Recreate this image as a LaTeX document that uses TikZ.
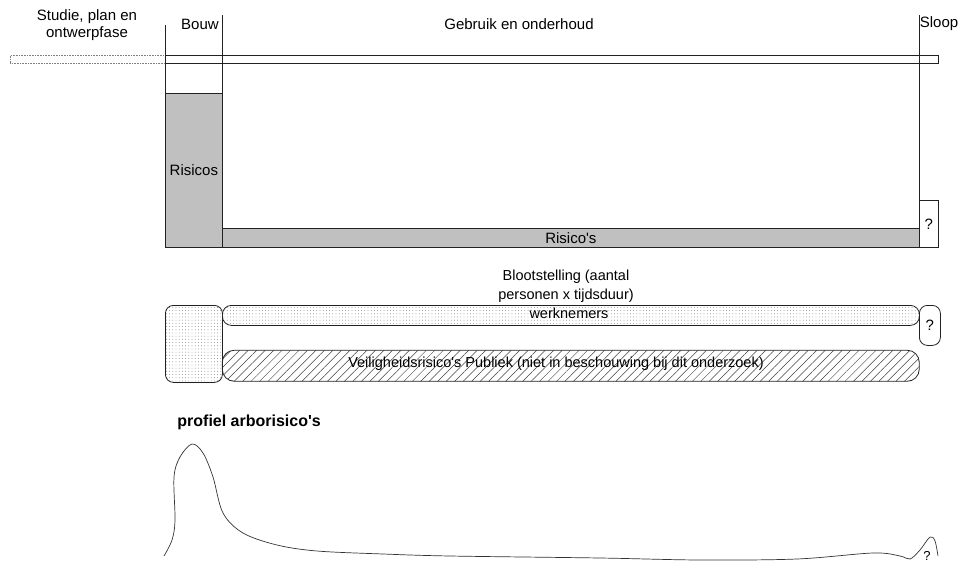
\documentclass[tikz,border=0pt]{standalone}
\usepackage{fontspec}
\setmainfont{Liberation Sans}[Ligatures=TeXOff]
\usetikzlibrary{patterns.meta}
\definecolor{riskgray}{HTML}{C0C0C0}
\definecolor{lineblack}{HTML}{222222}
\begin{document}
\begin{tikzpicture}[x=1pt,y=-1pt,line width=0.8pt,draw=lineblack,
  lbl/.style={font=\fontsize{15}{18}\selectfont,align=center,inner sep=0pt,text=black},
  boxnode/.style={draw=lineblack,inner sep=0pt,anchor=north west,font=\fontsize{15}{17}\selectfont},
  riskfill/.style={fill=riskgray},
  dotfill/.style={pattern={Dots[distance=3.2pt,radius=0.4pt]},pattern color=gray!80!black},
  hatchfill/.style={pattern={Lines[angle=45,distance=6pt,line width=0.5pt]},pattern color=darkgray},
  rnd/.style={rounded corners=#1}]
\useasboundingbox (0,0) rectangle (959,573);

% header labels
\node[lbl,font=\fontsize{15}{17}\selectfont] (studie) at (87,25) {Studie, plan en\\ontwerpfase};
\node[lbl] (bouw) at (200,24) {Bouw};
\node[lbl] (gebruik) at (519,24) {Gebruik en onderhoud};
\node[lbl] (sloop) at (939,24) {Sloop};

% time band
\node[boxnode,draw=gray,densely dotted,line width=0.6pt,minimum width=155pt,minimum height=8pt] (preband) at (10,55) {};
\node[boxnode,minimum width=773pt,minimum height=8pt] (band) at (165,55) {};

% frame and phase lines
\coordinate (ftop) at (165,25);
\coordinate (fcorner) at (165,247);
\coordinate (fend) at (938,247);
\coordinate (btop) at (222,15);
\coordinate (bbot) at (222,247);
\coordinate (stop) at (919,15);
\coordinate (sbot) at (919,247);
\draw (ftop) -- (fcorner) -- (fend);
\draw (btop) -- (bbot);
\draw (stop) -- (sbot);

% risks
\node[boxnode,riskfill,minimum width=57pt,minimum height=154pt] (risL) at (165,93) {Risicos};
\node[boxnode,riskfill,minimum width=697pt,minimum height=19pt] (risB) at (222,228) {Risico's};
\node[boxnode,fill=white,minimum width=19pt,minimum height=47pt] (risQ) at (919,200) {?};

% exposure
\node[lbl,font=\fontsize{14.5}{19}\selectfont] (bloot) at (566,286) {Blootstelling (aantal\\personen x tijdsduur)};
\node[boxnode,dotfill,rnd=8pt,minimum width=57pt,minimum height=77pt] (expL) at (165,305) {};
\node[boxnode,dotfill,rnd=9pt,minimum width=697pt,minimum height=20pt] (werk) at (222,305) {};
\node[lbl,font=\fontsize{14.5}{17}\selectfont] (werktxt) at (569,313) {werknemers};
\node[boxnode,rnd=8pt,minimum width=21pt,minimum height=40pt] (expQ) at (919,305) {?};
\node[boxnode,hatchfill,rnd=12pt,minimum width=697pt,minimum height=31pt] (publ) at (222,350) {};
\node[lbl,font=\fontsize{14.5}{17}\selectfont] (publtxt) at (556,364) {Veiligheidsrisico's Publiek (niet in beschouwing bij dit onderzoek)};

% profile
\node[lbl,font=\fontsize{16}{18}\selectfont\bfseries,anchor=west] (prof) at (177,422) {profiel arborisico's};
\draw[gray!40!black,line width=0.7pt] plot[smooth,tension=0.55] coordinates {
 (164,556) (172,540) (175,520) (174,477) (180,457) (192,444) (203,453) (213,477)
 (223,513) (243,533) (277,545) (317,551) (383,554) (450,556) (600,558) (700,560)
 (797,559) (873,553) (900,556) (910,559) (920,550) (930,537) (935,541) (938,556)};
\node[lbl,font=\fontsize{13}{15}\selectfont] (profq) at (927,556) {?};
\end{tikzpicture}
\end{document}
